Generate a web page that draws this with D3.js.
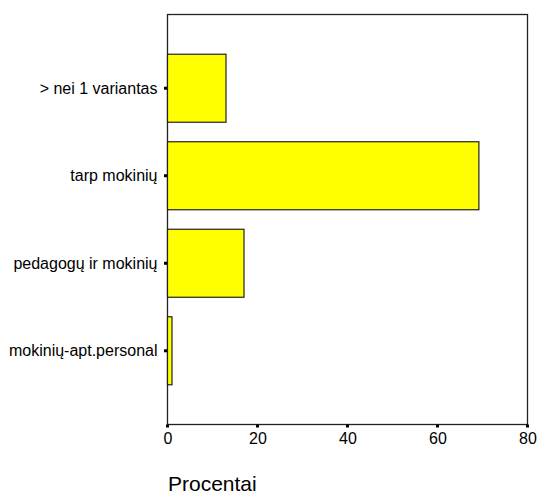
<!DOCTYPE html>
<html><head><meta charset="utf-8">
<script src="https://cdn.jsdelivr.net/npm/d3@7"></script>
<style>body{margin:0;background:#fff}svg{display:block}text{font-family:"Liberation Sans",Arial,sans-serif;fill:#000}</style>
</head><body>
<script>
const categories = ["> nei 1 variantas", "tarp mokinių", "pedagogų ir mokinių", "mokinių-apt.personal"];
const values = [13, 69.2, 17, 1];
const xTicks = [0, 20, 40, 60, 80];
const xTitle = "Procentai";

(function () {
const W = 539, H = 493;
const mL = 167.5, mR = 527.5, mT = 14.5, mB = 424.5;
const svg = d3.select("body").append("svg").attr("width", W).attr("height", H);

const x = d3.scaleLinear().domain([0, 80]).range([mL, mR]);
const y = d3.scaleBand().domain(categories).range([mT, mB]).paddingInner(0.223).paddingOuter(0.454);

// frame
svg.append("rect").attr("x", mL).attr("y", mT).attr("width", mR - mL).attr("height", mB - mT)
  .attr("fill", "none").attr("stroke", "#222").attr("stroke-width", 1.3);

// bars
svg.selectAll(".bar").data(categories).enter().append("rect")
  .attr("x", mL).attr("y", d => y(d))
  .attr("width", (d, i) => x(values[i]) - mL).attr("height", y.bandwidth())
  .attr("fill", "#ffff00").attr("stroke", "#222").attr("stroke-width", 1.2);

// y axis
const yAxis = svg.append("g").attr("transform", `translate(${mL},0)`)
  .call(d3.axisLeft(y).tickSize(0).tickPadding(10));
yAxis.select(".domain").remove();
yAxis.selectAll("text").attr("font-size", 16).attr("font-family", "Liberation Sans, Arial, sans-serif").attr("dy", "0.35em");
svg.selectAll(".ytick").data(categories).enter().append("rect")
  .attr("x", mL - 3.5).attr("y", d => y(d) + y.bandwidth() / 2 - 1.5).attr("width", 3).attr("height", 3).attr("fill", "#000");

// x axis
const xAxis = svg.append("g").attr("transform", `translate(0,${mB})`)
  .call(d3.axisBottom(x).tickValues(xTicks).tickSize(0).tickPadding(8));
xAxis.select(".domain").remove();
xAxis.selectAll("text").attr("font-size", 16).attr("font-family", "Liberation Sans, Arial, sans-serif");
svg.selectAll(".xtick").data(xTicks).enter().append("rect")
  .attr("x", d => x(d) - 1.5).attr("y", mB).attr("width", 3).attr("height", 3).attr("fill", "#000");

svg.append("text").attr("x", 168).attr("y", 491).attr("font-size", 21).text(xTitle);
})();
</script>
</body></html>
